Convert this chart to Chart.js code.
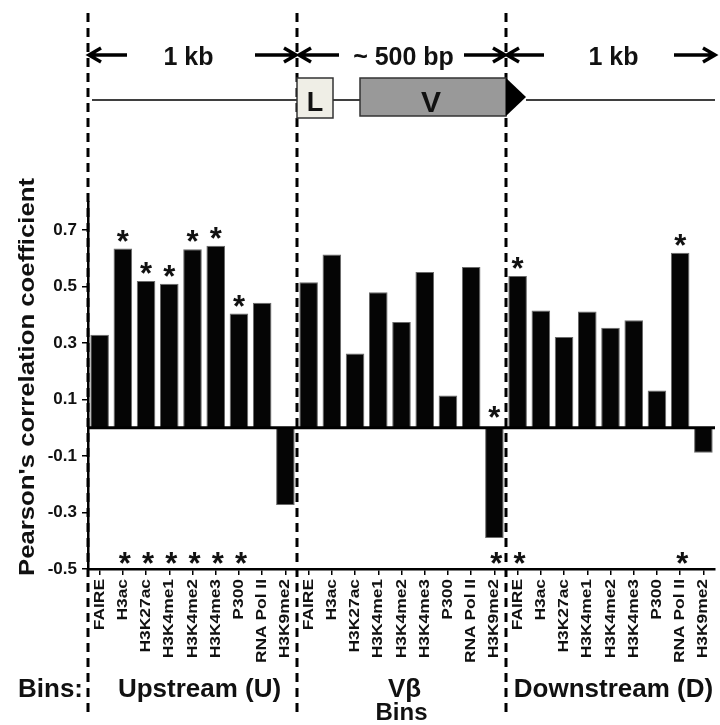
<!DOCTYPE html>
<html>
<head>
<meta charset="utf-8">
<script src="https://cdn.jsdelivr.net/npm/chart.js@4"></script>
<style>
  body { margin: 0; background: #fff; }
  canvas { display: block; }
</style>
</head>
<body>
<canvas id="chart" width="720" height="725"></canvas>
<script>
// values
const marks = ['FAIRE', 'H3ac', 'H3K27ac', 'H3K4me1', 'H3K4me2', 'H3K4me3', 'P300', 'RNA Pol II', 'H3K9me2'];
const groups = ['Upstream (U)', 'Vβ', 'Downstream (D)'];
const upstream = [0.33, 0.635, 0.52, 0.51, 0.633, 0.645, 0.405, 0.443, -0.273];
const vbeta = [0.516, 0.614, 0.263, 0.48, 0.375, 0.552, 0.115, 0.57, -0.39];
const downstream = [0.538, 0.416, 0.322, 0.412, 0.355, 0.381, 0.132, 0.62, -0.088];
// 1 = significant (asterisk)
const sigUpstream = [0, 1, 1, 1, 1, 1, 1, 0, 0];
const sigVbeta = [0, 0, 0, 0, 0, 0, 0, 0, 1];
const sigDownstream = [1, 0, 0, 0, 0, 0, 0, 1, 0];
const yTicks = [0.7, 0.5, 0.3, 0.1, -0.1, -0.3, -0.5];
const spans = ['1 kb', '~ 500 bp', '1 kb'];

const labels = [].concat(marks, marks, marks);
const values = [].concat(upstream, vbeta, downstream);
const sig = [].concat(sigUpstream, sigVbeta, sigDownstream);

const FAMILY = "'Liberation Sans', Arial, sans-serif";
const INK = '#111';

function stretchText(ctx, text, x, y, rot, sx, font, align, baseline) {
  ctx.save();
  ctx.translate(x, y);
  ctx.rotate(rot);
  ctx.scale(sx, 1);
  ctx.font = font;
  ctx.textAlign = align;
  ctx.textBaseline = baseline;
  ctx.fillStyle = INK;
  ctx.fillText(text, 0, 0);
  ctx.restore();
}

function arrow(ctx, x1, x2, y) {
  const d = Math.sign(x2 - x1);
  ctx.beginPath();
  ctx.moveTo(x1, y);
  ctx.lineTo(x2, y);
  ctx.moveTo(x2 - d * 12, y - 7);
  ctx.lineTo(x2, y);
  ctx.lineTo(x2 - d * 12, y + 7);
  ctx.stroke();
}

function star(ctx, x, y) {
  ctx.font = 'bold 31px ' + FAMILY;
  ctx.textAlign = 'center';
  ctx.textBaseline = 'alphabetic';
  const m = ctx.measureText('*');
  const off = (m.actualBoundingBoxAscent - m.actualBoundingBoxDescent) / 2;
  ctx.fillText('*', x, y + off);
}

const decorations = {
  id: 'decorations',
  afterDatasetsDraw(chart) {
    const { ctx, chartArea } = chart;
    const y0 = chart.scales.y.getPixelForValue(0);
    ctx.save();
    ctx.strokeStyle = '#000';
    ctx.lineWidth = 3;
    ctx.beginPath();
    ctx.moveTo(chartArea.left, y0);
    ctx.lineTo(chartArea.right, y0);
    ctx.stroke();
    ctx.restore();
  },
  afterDraw(chart) {
    const { ctx } = chart;
    const xs = chart.scales.x;
    const ys = chart.scales.y;
    const b = [-0.5, 8.5, 17.5, 26.5].map(v => xs.getPixelForValue(v));
    ctx.save();

    // dashed bin boundaries
    ctx.strokeStyle = '#000';
    ctx.lineWidth = 3;
    ctx.setLineDash([9, 6]);
    for (let i = 0; i < 3; i++) {
      ctx.beginPath();
      ctx.moveTo(b[i], 13);
      ctx.lineTo(b[i], 713);
      ctx.stroke();
    }
    ctx.setLineDash([]);

    // span arrows + text
    ctx.lineWidth = 3.5;
    const ay = 55;
    arrow(ctx, b[0] + 39, b[0] + 1, ay);
    arrow(ctx, b[1] - 42, b[1] - 1, ay);
    arrow(ctx, b[1] + 42, b[1] + 2, ay);
    arrow(ctx, b[2] - 42, b[2] - 1, ay);
    arrow(ctx, b[2] + 38, b[2] + 1, ay);
    arrow(ctx, b[3] - 41, b[3], ay);
    ctx.fillStyle = INK;
    ctx.font = 'bold 25px ' + FAMILY;
    ctx.textAlign = 'center';
    ctx.textBaseline = 'alphabetic';
    ctx.fillText(spans[0], (b[0] + b[1]) / 2 - 4, 65);
    ctx.fillText(spans[1], (b[1] + b[2]) / 2 + 2, 65);
    ctx.fillText(spans[2], (b[2] + b[3]) / 2 + 3, 65);

    // gene diagram
    ctx.lineWidth = 1.5;
    ctx.beginPath();
    ctx.moveTo(b[0] + 4, 100); ctx.lineTo(b[1], 100);
    ctx.moveTo(b[1] + 36, 100); ctx.lineTo(b[1] + 63, 100);
    ctx.moveTo(b[2] + 20, 100); ctx.lineTo(b[3], 100);
    ctx.stroke();
    ctx.strokeStyle = '#333';
    ctx.fillStyle = '#efeee6';
    ctx.fillRect(b[1], 78, 36, 40);
    ctx.strokeRect(b[1], 78, 36, 40);
    ctx.fillStyle = '#999';
    ctx.fillRect(b[1] + 63, 78, b[2] - b[1] - 63, 38);
    ctx.strokeRect(b[1] + 63, 78, b[2] - b[1] - 63, 38);
    ctx.fillStyle = '#000';
    ctx.beginPath();
    ctx.moveTo(b[2], 78); ctx.lineTo(b[2] + 20, 97); ctx.lineTo(b[2], 116);
    ctx.closePath();
    ctx.fill();
    ctx.fillStyle = INK;
    ctx.font = 'bold 27px ' + FAMILY;
    ctx.fillText('L', b[1] + 18, 111);
    ctx.font = 'bold 30px ' + FAMILY;
    ctx.fillText('V', b[1] + 134, 112);

    // asterisks
    const meta = chart.getDatasetMeta(0);
    const y0 = ys.getPixelForValue(0);
    const yb = ys.getPixelForValue(-0.5);
    sig.forEach((s, i) => {
      if (!s) return;
      const bar = meta.data[i];
      const top = values[i] >= 0 ? bar.y - 13 : y0 - 16;
      star(ctx, bar.x, top);
      star(ctx, bar.x + 2, yb - 11);
    });

    // x tick labels
    labels.forEach((l, i) => {
      stretchText(ctx, l, xs.getPixelForValue(i), 579, -Math.PI / 2, 1.2,
        'bold 14.5px ' + FAMILY, 'right', 'middle');
    });

    // y title
    stretchText(ctx, "Pearson's correlation coefficient", 34, 377, -Math.PI / 2, 1.17,
      'bold 22px ' + FAMILY, 'center', 'alphabetic');

    // bin labels
    ctx.fillStyle = INK;
    ctx.font = 'bold 26px ' + FAMILY;
    ctx.textBaseline = 'alphabetic';
    ctx.textAlign = 'right';
    ctx.fillText('Bins:', b[0] - 5, 697);
    ctx.textAlign = 'center';
    groups.forEach((g, i) => {
      ctx.fillText(g, (b[i] + b[i + 1]) / 2 + (i === 0 ? 7 : 3), 697);
    });
    ctx.restore();
  }
};

new Chart(document.getElementById('chart'), {
  type: 'bar',
  data: {
    labels,
    datasets: [{
      data: values,
      backgroundColor: '#050505',
      borderColor: '#6a6a6a',
      borderWidth: 1,
      barPercentage: 0.8,
      categoryPercentage: 1
    }]
  },
  options: {
    responsive: false,
    animation: false,
    layout: { padding: { top: 202, right: 5, left: 0, bottom: 0 } },
    plugins: { legend: { display: false }, tooltip: { enabled: false } },
    scales: {
      x: {
        offset: true,
        grid: { offset: false, drawOnChartArea: false, color: '#000', lineWidth: 1.5, tickLength: 6 },
        border: { color: '#000', width: 2.5 },
        ticks: { display: false, autoSkip: false },
        title: {
          display: true, text: 'Bins', color: INK, padding: 0,
          font: { family: FAMILY, size: 24, weight: 'bold', lineHeight: 1 }
        },
        afterFit: s => { s.height = 156; }
      },
      y: {
        min: -0.5,
        max: 0.8,
        afterBuildTicks: s => { s.ticks = yTicks.map(v => ({ value: v })); },
        grid: { drawOnChartArea: false, color: '#000', lineWidth: 1.5, tickLength: 6 },
        border: { color: '#000', width: 2.5 },
        ticks: {
          color: INK, padding: 5,
          font: { family: FAMILY, size: 17, weight: 'bold' },
          callback: v => v.toFixed(1)
        },
        afterFit: s => { s.width = 88; }
      }
    }
  },
  plugins: [decorations]
});
</script>
</body>
</html>
